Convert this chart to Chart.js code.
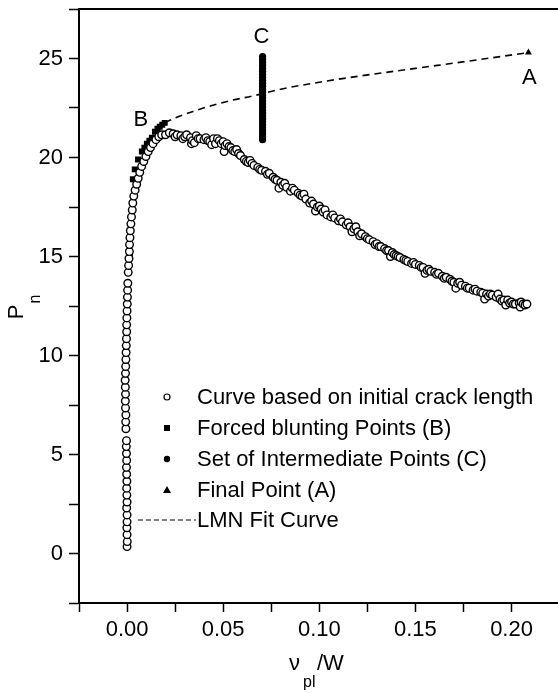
<!DOCTYPE html>
<html>
<head>
<meta charset="utf-8">
<script src="https://cdn.jsdelivr.net/npm/chart.js@4.4.1/dist/chart.umd.min.js"></script>
<style>
html, body { margin: 0; padding: 0; background: #fff; overflow: hidden; }
#wrap { width: 565px; height: 693px; }
</style>
</head>
<body>
<div id="wrap"><canvas id="chartCanvas" width="565" height="693"></canvas></div>
<script>
// tick labels
const xTickLabels = [0, 0.05, 0.10, 0.15, 0.20];
const yTickLabels = [0, 5, 10, 15, 20, 25];

// open circles: curve based on initial crack length
const curveRise = [
  [0.0000, 0.35], [0.0001, 0.6], [0.0000, 0.95], [-0.0001, 1.3], [0.0000, 1.6], [0.0000, 1.95],
  [-0.0002, 2.3], [0.0000, 2.6], [-0.0001, 2.95], [-0.0002, 3.3], [-0.0001, 3.65], [-0.0002, 4.0],
  [-0.0003, 4.35], [-0.0002, 4.7], [-0.0003, 5.05], [-0.0004, 5.4], [-0.0003, 5.7],
  [-0.0006, 6.3], [-0.0007, 6.65], [-0.0006, 7.0], [-0.0008, 7.35], [-0.0009, 7.7], [-0.0008, 8.05],
  [-0.0009, 8.4], [-0.0010, 8.75], [-0.0008, 9.1], [-0.0007, 9.45], [-0.0006, 9.8], [-0.0005, 10.15],
  [-0.0004, 10.5], [-0.0003, 10.85], [-0.0002, 11.2], [-0.0002, 11.55], [-0.0001, 11.9], [0.0000, 12.25],
  [0.0001, 12.6], [0.0002, 12.95], [0.0003, 13.3], [0.0004, 13.65],
  [0.0006, 14.2], [0.0008, 14.55], [0.0010, 14.9], [0.0012, 15.25], [0.0013, 15.6], [0.0015, 15.95],
  [0.0017, 16.3], [0.0020, 16.65], [0.0023, 17.0], [0.0027, 17.35], [0.0030, 17.7], [0.0035, 18.05],
  [0.0042, 18.35], [0.0050, 18.65], [0.0058, 18.95], [0.0066, 19.25], [0.0076, 19.55], [0.0087, 19.8],
  [0.0098, 20.05], [0.0110, 20.3], [0.0122, 20.5], [0.0135, 20.7], [0.0150, 20.9], [0.0165, 21.05],
  [0.0180, 21.15]
];
const curveFall = [
  [0.020, 21.15], [0.022, 21.25], [0.024, 21.2], [0.025, 21.05], [0.026, 21.15], [0.028, 21.1],
  [0.029, 20.95], [0.030, 21.05], [0.031, 21.15], [0.033, 21.0], [0.0335, 20.7], [0.034, 20.85],
  [0.035, 20.75], [0.036, 21.1], [0.037, 20.95], [0.038, 20.95], [0.040, 20.9], [0.041, 21.0],
  [0.042, 20.85], [0.043, 20.8], [0.044, 20.65], [0.045, 20.95], [0.046, 20.7], [0.047, 20.95],
  [0.048, 20.85], [0.049, 20.7], [0.050, 20.8], [0.0505, 20.3], [0.051, 20.6], [0.052, 20.7],
  [0.053, 20.55], [0.054, 20.5], [0.055, 20.35], [0.056, 20.3], [0.057, 20.4], [0.058, 20.2],
  [0.059, 20.1], [0.061, 19.9], [0.062, 19.8], [0.063, 19.75], [0.064, 19.85], [0.065, 19.7],
  [0.066, 19.6], [0.068, 19.5], [0.069, 19.4], [0.070, 19.35], [0.072, 19.3], [0.073, 19.15],
  [0.074, 19.2], [0.076, 19.0], [0.077, 18.9], [0.078, 18.85], [0.079, 18.45], [0.080, 18.75],
  [0.081, 18.6], [0.082, 18.7], [0.083, 18.5], [0.085, 18.3], [0.086, 18.45], [0.087, 18.35],
  [0.089, 18.2], [0.090, 18.1], [0.091, 18.05], [0.092, 18.15], [0.093, 17.9], [0.095, 17.7],
  [0.096, 17.8], [0.097, 17.65], [0.098, 17.3], [0.099, 17.5], [0.100, 17.55], [0.101, 17.4],
  [0.102, 17.25], [0.103, 17.35], [0.104, 17.1], [0.106, 17.0], [0.107, 17.1], [0.108, 16.95],
  [0.110, 16.8], [0.111, 16.9], [0.112, 16.75], [0.114, 16.6], [0.115, 16.7], [0.116, 16.5],
  [0.117, 16.25], [0.118, 16.4], [0.119, 16.5], [0.120, 16.25], [0.121, 16.05], [0.122, 16.15],
  [0.124, 16.0], [0.125, 15.9], [0.126, 15.85], [0.128, 15.75], [0.129, 15.6], [0.130, 15.65],
  [0.131, 15.5], [0.132, 15.5], [0.134, 15.4], [0.135, 15.3], [0.136, 15.3], [0.137, 15.0],
  [0.138, 15.2], [0.139, 15.1], [0.140, 15.05], [0.141, 15.0], [0.142, 14.95], [0.144, 14.85],
  [0.145, 14.8], [0.146, 14.75], [0.148, 14.65], [0.149, 14.7], [0.150, 14.6], [0.152, 14.55],
  [0.153, 14.45], [0.154, 14.45], [0.155, 14.15], [0.156, 14.3], [0.157, 14.35], [0.158, 14.25],
  [0.160, 14.2], [0.161, 14.1], [0.162, 14.15], [0.164, 14.0], [0.165, 13.9], [0.166, 13.95],
  [0.168, 13.85], [0.169, 13.75], [0.170, 13.7], [0.171, 13.4], [0.172, 13.65], [0.173, 13.7],
  [0.174, 13.55], [0.176, 13.5], [0.177, 13.4], [0.178, 13.4], [0.180, 13.3], [0.181, 13.35],
  [0.182, 13.25], [0.184, 13.2], [0.185, 13.15], [0.186, 12.85], [0.187, 13.1], [0.188, 13.0],
  [0.189, 13.1], [0.190, 13.05], [0.192, 12.95], [0.193, 13.1], [0.194, 12.85], [0.195, 12.75],
  [0.196, 12.8], [0.197, 12.55], [0.198, 12.8], [0.199, 12.65], [0.200, 12.7], [0.201, 12.6],
  [0.202, 12.6], [0.204, 12.65], [0.2045, 12.45], [0.205, 12.7], [0.206, 12.6], [0.207, 12.55],
  [0.208, 12.6]
];

// forced blunting points (B)
const bluntPts = [
  [0.0015, 15.0], [0.0025, 17.0], [0.0030, 18.9], [0.0040, 19.4], [0.0057, 19.9], [0.0077, 20.3],
  [0.0090, 20.5], [0.0103, 20.7], [0.0116, 20.85], [0.0129, 21.0], [0.0145, 21.3], [0.0158, 21.45],
  [0.0170, 21.55], [0.0183, 21.65], [0.0196, 21.75]
];

// set of intermediate points (C)
const interX = 0.0705;
const interY = [20.9, 21.05, 21.2, 21.35, 21.5, 21.65, 21.8, 21.95, 22.1, 22.25, 22.4, 22.55, 22.7,
  22.85, 23.0, 23.15, 23.3, 23.45, 23.6, 23.75, 23.9, 24.05, 24.2, 24.35, 24.5, 24.65, 24.8, 24.95, 25.1];

// final point (A)
const finalPt = [0.2088, 25.3];

// LMN fit curve
const fitX = [0.0196, 0.025, 0.035, 0.045, 0.055, 0.065, 0.080, 0.100, 0.120, 0.150, 0.180, 0.2088];
const fitY = [21.75, 22.0, 22.35, 22.65, 22.9, 23.1, 23.45, 23.8, 24.1, 24.5, 24.9, 25.3];

const FONT = 'Liberation Sans, Arial, Helvetica, sans-serif';
const toXY = p => ({ x: p[0], y: p[1] });

const extras = {
  id: 'extras',
  afterDraw(chart) {
    const ctx = chart.ctx;
    const area = chart.chartArea;
    const xs = chart.scales.x, ys = chart.scales.y;
    ctx.save();
    // top frame line
    ctx.strokeStyle = '#000';
    ctx.lineWidth = 2;
    ctx.beginPath();
    ctx.moveTo(area.left - 1, area.top);
    ctx.lineTo(area.right + 5, area.top);
    ctx.stroke();

    ctx.fillStyle = '#000';
    ctx.font = '22px ' + FONT;
    ctx.textAlign = 'center';
    ctx.textBaseline = 'middle';
    // point labels
    ctx.fillText('B', xs.getPixelForValue(0.0072), ys.getPixelForValue(21.9));
    ctx.fillText('C', xs.getPixelForValue(0.0699), ys.getPixelForValue(26.1));
    ctx.fillText('A', xs.getPixelForValue(0.2092), ys.getPixelForValue(24.0));

    // legend
    const mx = 167, tx = 197;
    const rows = [397, 428, 459, 490, 520];
    ctx.textAlign = 'left';
    ctx.lineWidth = 1.2;
    ctx.beginPath();
    ctx.arc(mx, rows[0], 3, 0, Math.PI * 2);
    ctx.fillStyle = '#fff';
    ctx.fill();
    ctx.stroke();
    ctx.fillStyle = '#000';
    ctx.fillRect(mx - 3, rows[1] - 3, 6, 6);
    ctx.beginPath();
    ctx.arc(mx, rows[2], 3.2, 0, Math.PI * 2);
    ctx.fill();
    ctx.beginPath();
    ctx.moveTo(mx, rows[3] - 4);
    ctx.lineTo(mx + 4, rows[3] + 3);
    ctx.lineTo(mx - 4, rows[3] + 3);
    ctx.closePath();
    ctx.fill();
    ctx.setLineDash([5, 3]);
    ctx.lineWidth = 1.2;
    ctx.beginPath();
    ctx.moveTo(138, rows[4]);
    ctx.lineTo(196, rows[4]);
    ctx.stroke();
    ctx.setLineDash([]);
    const texts = ['Curve based on initial crack length', 'Forced blunting Points (B)',
      'Set of Intermediate Points (C)', 'Final Point (A)', 'LMN Fit Curve'];
    texts.forEach((t, i) => ctx.fillText(t, tx, rows[i] + 1));

    // axis titles
    ctx.textAlign = 'left';
    ctx.textBaseline = 'alphabetic';
    ctx.font = '22px ' + FONT;
    ctx.fillText('\u03bd', 289, 670);
    ctx.font = '16px ' + FONT;
    ctx.fillText('pl', 303, 687);
    ctx.font = '22px ' + FONT;
    ctx.fillText('/W', 317, 670);

    ctx.translate(23, 312);
    ctx.rotate(-Math.PI / 2);
    ctx.textAlign = 'center';
    ctx.fillText('P', 0, 0);
    ctx.font = '16px ' + FONT;
    ctx.fillText('n', 13, 17);
    ctx.restore();
  }
};

const ctx = document.getElementById('chartCanvas').getContext('2d');
new Chart(ctx, {
  type: 'scatter',
  data: {
    datasets: [
      {
        label: 'LMN Fit Curve',
        data: fitX.map((x, i) => ({ x: x, y: fitY[i] })),
        showLine: true,
        borderColor: '#000',
        borderWidth: 1.6,
        borderDash: [7, 5],
        pointRadius: 0,
        cubicInterpolationMode: 'monotone',
        order: 5
      },
      {
        label: 'Final Point (A)',
        data: [toXY(finalPt)],
        pointStyle: 'triangle',
        pointRadius: 4,
        backgroundColor: '#000',
        borderColor: '#000',
        borderWidth: 0,
        order: 1
      },
      {
        label: 'Set of Intermediate Points (C)',
        data: interY.map(y => ({ x: interX, y: y })),
        pointStyle: 'circle',
        pointRadius: 3.6,
        backgroundColor: '#000',
        borderColor: '#000',
        borderWidth: 0,
        order: 2
      },
      {
        label: 'Forced blunting Points (B)',
        data: bluntPts.map(toXY),
        pointStyle: 'rect',
        pointRadius: 4.2,
        backgroundColor: '#000',
        borderColor: '#000',
        borderWidth: 0,
        order: 4
      },
      {
        label: 'Curve based on initial crack length',
        data: curveRise.concat(curveFall).map(toXY),
        pointStyle: 'circle',
        pointRadius: 3.8,
        backgroundColor: '#fff',
        borderColor: '#000',
        borderWidth: 1.4,
        order: 3
      }
    ]
  },
  options: {
    responsive: false,
    animation: false,
    events: [],
    layout: { padding: { top: 9, right: 4, left: 0, bottom: 0 } },
    plugins: { legend: { display: false }, tooltip: { enabled: false } },
    scales: {
      x: {
        type: 'linear',
        min: -0.025,
        max: 0.225,
        border: { color: '#000', width: 2 },
        grid: { drawOnChartArea: false, tickLength: 9, tickColor: '#000', tickWidth: 1.5 },
        ticks: {
          stepSize: 0.025,
          autoSkip: false,
          maxRotation: 0,
          color: '#000',
          padding: 5,
          font: { family: FONT, size: 22 },
          callback: v => xTickLabels.some(t => Math.abs(t - v) < 1e-6) ? v.toFixed(2) : ''
        },
        afterFit(s) { s.height = 90; s.paddingLeft = 0; s.paddingRight = 0; }
      },
      y: {
        type: 'linear',
        min: -2.5,
        max: 27.5,
        border: { color: '#000', width: 2 },
        grid: { drawOnChartArea: false, tickLength: 10, tickColor: '#000', tickWidth: 1.5 },
        ticks: {
          stepSize: 2.5,
          autoSkip: false,
          color: '#000',
          padding: 6,
          font: { family: FONT, size: 22 },
          callback: v => yTickLabels.some(t => Math.abs(t - v) < 1e-6) ? String(Math.round(v)) : ''
        },
        afterFit(s) { s.width = 79; s.paddingTop = 0; s.paddingBottom = 0; }
      }
    }
  },
  plugins: [extras]
});
</script>
</body>
</html>
